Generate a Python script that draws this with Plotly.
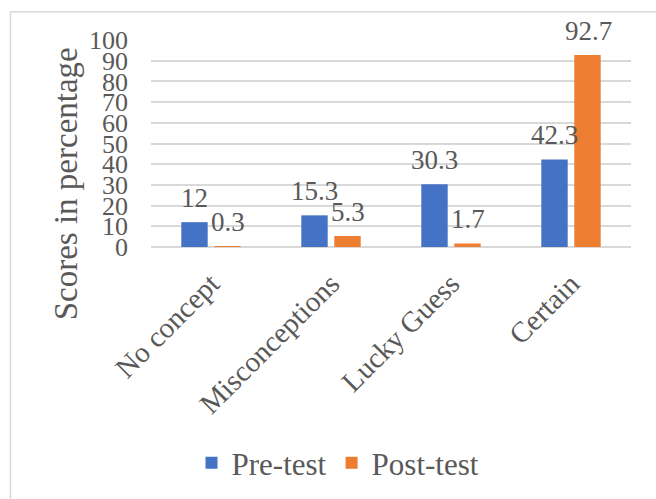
import plotly.graph_objects as go

categories = ["No concept", "Misconceptions", "Lucky Guess", "Certain"]
pre_test = [12, 15.3, 30.3, 42.3]
post_test = [0.3, 5.3, 1.7, 92.7]
y_ticks = list(range(0, 101, 10))
y_title = "Scores in percentage"

FONT = "'Times New Roman', 'Liberation Serif', serif"
TEXT = "#595959"
GRID = "#d9d9d9"
BLUE = "#4472c4"
ORANGE = "#ed7d31"

W, H = 656, 499
L, R, T, B = 151, 25, 40, 251
pw, ph = W - L - R, H - T - B


def px_x(x):
    return (x - L) / pw


def px_y(y):
    return (H - B - y) / ph


fig = go.Figure()
fig.add_trace(go.Bar(name="Pre-test", x=categories, y=pre_test,
                     marker_color=BLUE, marker_line_width=0))
fig.add_trace(go.Bar(name="Post-test", x=categories, y=post_test,
                     marker_color=ORANGE, marker_line_width=0))

# value labels sitting above each bar (half a slot left / right of the category)
for values, dx in ((pre_test, -17), (post_test, 17)):
    for cat, v in zip(categories, values):
        fig.add_annotation(
            x=cat, y=v, text=f"{v:g}", showarrow=False,
            xanchor="center", yanchor="bottom", xshift=dx, yshift=7,
            font=dict(family=FONT, size=27, color=TEXT),
        )

# vertical axis title, centred on the whole chart area rather than the plot
fig.add_annotation(
    xref="paper", yref="paper", x=px_x(66), y=px_y(185),
    text=y_title, textangle=-90, showarrow=False,
    xanchor="center", yanchor="middle",
    font=dict(family=FONT, size=33, color=TEXT),
)

fig.update_layout(
    width=W, height=H,
    margin=dict(l=L, r=R, t=T, b=B, pad=0),
    paper_bgcolor="white", plot_bgcolor="white",
    barmode="group", bargap=0.45, bargroupgap=0.2,
    font=dict(family=FONT, size=26, color=TEXT),
    showlegend=True,
    legend=dict(
        orientation="h", x=px_x(338), y=px_y(463),
        xanchor="center", yanchor="middle",
        font=dict(family=FONT, size=31, color=TEXT),
        itemwidth=30, traceorder="normal",
    ),
)

fig.update_yaxes(
    range=[0, 100], tickvals=y_ticks, ticktext=[str(v) for v in y_ticks],
    showgrid=True, gridcolor=GRID, gridwidth=1.5,
    zeroline=True, zerolinecolor=GRID, zerolinewidth=1.5,
    showline=False, ticks="", ticklabelstandoff=22,
    tickfont=dict(family=FONT, size=26, color=TEXT),
)
fig.update_xaxes(
    tickangle=-45, showgrid=False, showline=False, ticks="",
    ticklabelstandoff=13,
    tickfont=dict(family=FONT, size=29, color=TEXT),
)

# chart-area frame (left and top edges)
fig.add_shape(type="line", xref="paper", yref="paper",
              x0=px_x(10.5), x1=px_x(10.5), y0=px_y(11), y1=px_y(520),
              line=dict(color=GRID, width=1.5))
fig.add_shape(type="line", xref="paper", yref="paper",
              x0=px_x(10), x1=px_x(680), y0=px_y(11.5), y1=px_y(11.5),
              line=dict(color=GRID, width=1.5))

fig.write_html("out.html")
